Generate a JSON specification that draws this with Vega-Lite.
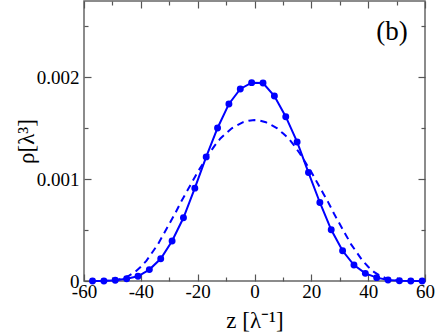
{
  "$schema": "https://vega.github.io/schema/vega-lite/v6.json",
  "width": 341,
  "height": 280,
  "autosize": "none",
  "padding": {"left": 84, "top": 1, "right": 11, "bottom": 53},
  "background": "white",
  "config": {
    "view": {"stroke": "#666666", "strokeWidth": 1.5},
    "axis": {
      "domain": false,
      "grid": false,
      "labelFont": "Times New Roman, Liberation Serif, serif",
      "labelFontSize": 19,
      "labelColor": "#000000",
      "tickColor": "#555555",
      "tickWidth": 1.2,
      "titleFont": "Times New Roman, Liberation Serif, serif",
      "titleFontSize": 23,
      "titleFontWeight": "normal",
      "titleColor": "#000000"
    }
  },
  "datasets": {
    "sim": [
      {"z": -57, "rho": 0.0},
      {"z": -53, "rho": 0.0},
      {"z": -49, "rho": 0.000007},
      {"z": -45, "rho": 0.000022},
      {"z": -41, "rho": 0.000046},
      {"z": -37, "rho": 0.000112},
      {"z": -33, "rho": 0.000218},
      {"z": -29, "rho": 0.000393},
      {"z": -25, "rho": 0.000621},
      {"z": -21, "rho": 0.000912},
      {"z": -17, "rho": 0.001219},
      {"z": -13, "rho": 0.001503},
      {"z": -9, "rho": 0.001739},
      {"z": -5, "rho": 0.001886},
      {"z": -1, "rho": 0.001948},
      {"z": 3, "rho": 0.001944},
      {"z": 7, "rho": 0.001817},
      {"z": 11, "rho": 0.001614},
      {"z": 15, "rho": 0.001366},
      {"z": 19, "rho": 0.001065},
      {"z": 23, "rho": 0.000771},
      {"z": 27, "rho": 0.000503},
      {"z": 31, "rho": 0.000297},
      {"z": 35, "rho": 0.000157},
      {"z": 39, "rho": 0.000075},
      {"z": 43, "rho": 0.000033},
      {"z": 47, "rho": 0.00001},
      {"z": 51, "rho": 0.000003},
      {"z": 55, "rho": 0.0},
      {"z": 59, "rho": 0.0}
    ],
    "model": [
      {"z": -58, "rho": 0.0},
      {"z": -54, "rho": 0.0},
      {"z": -52, "rho": 0.000002},
      {"z": -50, "rho": 0.000005},
      {"z": -48, "rho": 0.000013},
      {"z": -46, "rho": 0.00003},
      {"z": -44, "rho": 0.000055},
      {"z": -42, "rho": 0.00009},
      {"z": -40, "rho": 0.00014},
      {"z": -38, "rho": 0.0002},
      {"z": -36, "rho": 0.00028},
      {"z": -34, "rho": 0.00036},
      {"z": -32, "rho": 0.00046},
      {"z": -30, "rho": 0.00056},
      {"z": -28, "rho": 0.00066},
      {"z": -26, "rho": 0.00077},
      {"z": -24, "rho": 0.00087},
      {"z": -22, "rho": 0.00097},
      {"z": -20, "rho": 0.00107},
      {"z": -18, "rho": 0.00116},
      {"z": -16, "rho": 0.00125},
      {"z": -14, "rho": 0.00133},
      {"z": -12, "rho": 0.0014},
      {"z": -10, "rho": 0.00145},
      {"z": -8, "rho": 0.0015},
      {"z": -6, "rho": 0.00153},
      {"z": -4, "rho": 0.00156},
      {"z": -2, "rho": 0.001575},
      {"z": 0, "rho": 0.00158},
      {"z": 2, "rho": 0.001575},
      {"z": 4, "rho": 0.00156},
      {"z": 6, "rho": 0.00153},
      {"z": 8, "rho": 0.0015},
      {"z": 10, "rho": 0.00145},
      {"z": 12, "rho": 0.0014},
      {"z": 14, "rho": 0.00133},
      {"z": 16, "rho": 0.00125},
      {"z": 18, "rho": 0.00116},
      {"z": 20, "rho": 0.00107},
      {"z": 22, "rho": 0.00097},
      {"z": 24, "rho": 0.00087},
      {"z": 26, "rho": 0.00077},
      {"z": 28, "rho": 0.00066},
      {"z": 30, "rho": 0.00056},
      {"z": 32, "rho": 0.00046},
      {"z": 34, "rho": 0.00036},
      {"z": 36, "rho": 0.00028},
      {"z": 38, "rho": 0.0002},
      {"z": 40, "rho": 0.00014},
      {"z": 42, "rho": 0.00009},
      {"z": 44, "rho": 0.000055},
      {"z": 46, "rho": 0.00003},
      {"z": 48, "rho": 0.000013},
      {"z": 50, "rho": 0.000005},
      {"z": 52, "rho": 0.000002},
      {"z": 54, "rho": 0.0},
      {"z": 58, "rho": 0.0}
    ],
    "label": [{"z": 48.4, "rho": 0.00237, "text": "(b)"}]
  },
  "resolve": {"axis": {"x": "independent", "y": "independent"}},
  "layer": [
    {
      "data": {"name": "model"},
      "mark": {"type": "line", "color": "#0000ff", "strokeWidth": 2, "strokeDash": [7, 5], "clip": true},
      "encoding": {
        "x": {
          "field": "z", "type": "quantitative",
          "scale": {"domain": [-60, 60], "nice": false, "zero": false},
          "axis": {
            "orient": "bottom",
            "values": [-60, -50, -40, -30, -20, -10, 0, 10, 20, 30, 40, 50, 60],
            "tickSize": {"condition": {"test": "datum.value % 20 === 0", "value": -7}, "value": -4},
            "labelExpr": "datum.value % 20 === 0 ? replace(datum.label, '−', '-') : ''",
            "labelPadding": 8,
            "labelFlush": false,
            "labelOverlap": false,
            "title": "z [λ⁻¹]",
            "titlePadding": 5
          }
        },
        "y": {
          "field": "rho", "type": "quantitative",
          "scale": {"domain": [0, 0.00275], "nice": false, "zero": false},
          "axis": {
            "orient": "left",
            "values": [0, 0.0005, 0.001, 0.0015, 0.002, 0.0025],
            "tickSize": {"condition": {"test": "abs(datum.value*1000 - round(datum.value*1000)) < 1e-6", "value": -7}, "value": -4},
            "labelExpr": "abs(datum.value*1000 - round(datum.value*1000)) < 1e-6 ? (datum.value === 0 ? '0' : format(datum.value, '.3f')) : ''",
            "labelPadding": 12,
            "labelFlush": false,
            "labelOverlap": false,
            "title": "ρ[λ³]",
            "titlePadding": -2
          }
        }
      }
    },
    {
      "data": {"name": "sim"},
      "mark": {"type": "line", "color": "#0000ff", "strokeWidth": 2},
      "encoding": {
        "x": {
          "field": "z", "type": "quantitative",
          "axis": {
            "orient": "top",
            "values": [-60, -50, -40, -30, -20, -10, 0, 10, 20, 30, 40, 50, 60],
            "tickSize": {"condition": {"test": "datum.value % 20 === 0", "value": -7}, "value": -4},
            "labels": false,
            "title": null
          }
        },
        "y": {
          "field": "rho", "type": "quantitative",
          "axis": {
            "orient": "right",
            "values": [0, 0.0005, 0.001, 0.0015, 0.002, 0.0025],
            "tickSize": {"condition": {"test": "abs(datum.value*1000 - round(datum.value*1000)) < 1e-6", "value": -7}, "value": -4},
            "labels": false,
            "title": null
          }
        }
      }
    },
    {
      "data": {"name": "sim"},
      "mark": {"type": "circle", "color": "#0000ff", "opacity": 1, "size": 48},
      "encoding": {
        "x": {"field": "z", "type": "quantitative", "axis": null},
        "y": {"field": "rho", "type": "quantitative", "axis": null}
      }
    },
    {
      "data": {"name": "label"},
      "mark": {"type": "text", "font": "Times New Roman, Liberation Serif, serif", "fontSize": 27, "color": "#000000", "align": "center", "baseline": "alphabetic"},
      "encoding": {
        "x": {"field": "z", "type": "quantitative", "axis": null},
        "y": {"field": "rho", "type": "quantitative", "axis": null},
        "text": {"field": "text"}
      }
    }
  ]
}
